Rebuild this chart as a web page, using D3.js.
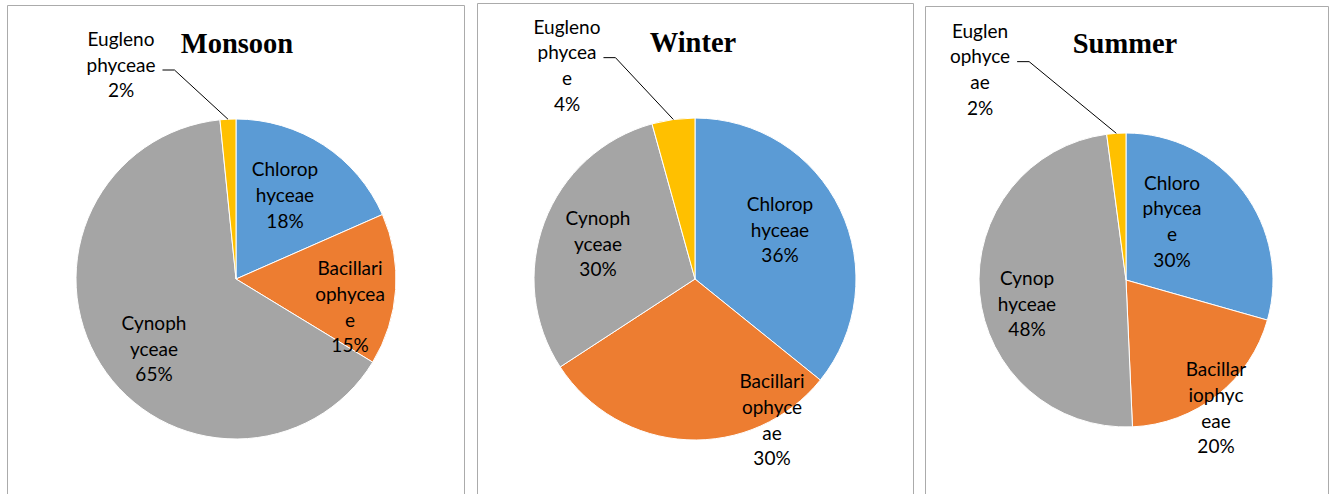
<!DOCTYPE html>
<html>
<head>
<meta charset="utf-8">
<script src="https://cdn.jsdelivr.net/npm/d3@7"></script>
<style>
  html, body { margin: 0; padding: 0; background: #ffffff; }
  svg { display: block; }
</style>
</head>
<body>
<svg id="chart" width="1333" height="494"></svg>
<script>
// ---- data ----
const categories = ["Chlorophyceae", "Bacillariophyceae", "Cynophyceae", "Euglenophyceae"];
const seasons = ["Monsoon", "Winter", "Summer"];
const monsoonValues = [18.4, 15.3, 64.7, 1.6];
const winterValues = [35.8, 30.0, 29.9, 4.3];
const summerValues = [29.4, 19.9, 48.6, 2.1];
// label text as wrapped in the original
const monsoonLabels = [["Chlorop", "hyceae", "18%"], ["Bacillari", "ophycea", "e", "15%"], ["Cynoph", "yceae", "65%"], ["Eugleno", "phyceae", "2%"]];
const winterLabels = [["Chlorop", "hyceae", "36%"], ["Bacillari", "ophyce", "ae", "30%"], ["Cynoph", "yceae", "30%"], ["Eugleno", "phycea", "e", "4%"]];
const summerLabels = [["Chloro", "phycea", "e", "30%"], ["Bacillar", "iophyc", "eae", "20%"], ["Cynop", "hyceae", "48%"], ["Euglen", "ophyce", "ae", "2%"]];

// ---- styles / layout ----
const colors = ["#5B9BD5", "#ED7D31", "#A5A5A5", "#FFC000"];
const labelFont = "Lato, 'Open Sans', sans-serif";
const labelSize = 19;
const lineH = 25.7;
const panels = [
  { x0: 7, x1: 464, y0: 5, cx: 236, cy: 279, r: 160, titleX: 237, titleY: 53,
    values: monsoonValues, labels: monsoonLabels,
    offsets: [[49, -83.5], [114, 28], [-82, 70], [-115, -214]] },
  { x0: 477, x1: 913, y0: 3, cx: 695, cy: 279, r: 161, titleX: 693, titleY: 52,
    values: winterValues, labels: winterLabels,
    offsets: [[85, -49], [77, 141], [-97, -35], [-128, -213.5]] },
  { x0: 925, x1: 1328, y0: 6, cx: 1126, cy: 280, r: 147, titleX: 1125, titleY: 53,
    values: summerValues, labels: summerLabels,
    offsets: [[46, -58.5], [90, 128], [-99, 24], [-146, -210.5]] }
];

const svg = d3.select("#chart");
const color = d3.scaleOrdinal().domain(categories).range(colors);
const pie = d3.pie().sort(null).value(d => d.value);

panels.forEach((p, pi) => {
  const g = svg.append("g");
  // panel border (bottom runs off the image)
  g.append("path")
    .attr("d", `M${p.x0 + 0.5},${500} V${p.y0 + 0.5} H${p.x1 + 0.5} V${500}`)
    .attr("fill", "none").attr("stroke", "#ABABAB").attr("stroke-width", 1);

  g.append("text")
    .attr("x", p.titleX).attr("y", p.titleY)
    .attr("text-anchor", "middle")
    .attr("font-family", "'Liberation Serif', 'Times New Roman', serif")
    .attr("font-weight", "bold").attr("font-size", 28.5)
    .attr("fill", "#000")
    .text(seasons[pi]);

  const data = categories.map((c, i) => ({ cat: c, value: p.values[i], lines: p.labels[i], off: p.offsets[i] }));
  const arcs = pie(data);
  const arc = d3.arc().innerRadius(0).outerRadius(p.r);
  const pg = g.append("g").attr("transform", `translate(${p.cx},${p.cy})`);
  pg.selectAll("path.slice").data(arcs).join("path")
    .attr("class", "slice")
    .attr("d", arc)
    .attr("fill", d => color(d.data.cat))
    .attr("stroke", "#ffffff").attr("stroke-width", 1);

  arcs.forEach((a, i) => {
    const d = a.data;
    const n = d.lines.length;
    const bx = d.off[0], by = d.off[1];
    const t = pg.append("text")
      .attr("text-anchor", "middle")
      .attr("font-family", labelFont).attr("font-size", labelSize)
      .attr("fill", "#000");
    d.lines.forEach((ln, k) => {
      t.append("tspan")
        .attr("x", bx)
        .attr("y", by + (k - (n - 1) / 2) * lineH)
        .attr("dy", "0.35em")
        .text(ln);
    });
    // leader line for the small outside label
    if (d.cat === "Euglenophyceae") {
      const second = t.selectAll("tspan").nodes()[1];
      const w = second.getComputedTextLength();
      const ly = by + (1 - (n - 1) / 2) * lineH + 5;
      const sx = bx + w / 2 + 7;
      const mid = (a.startAngle + a.endAngle) / 2;
      const ex = p.r * Math.sin(mid), ey = -p.r * Math.cos(mid);
      pg.append("path")
        .attr("d", `M${sx},${ly} H${sx + 12} L${ex},${ey}`)
        .attr("fill", "none").attr("stroke", "#000").attr("stroke-width", 1);
    }
  });
});
</script>
</body>
</html>
